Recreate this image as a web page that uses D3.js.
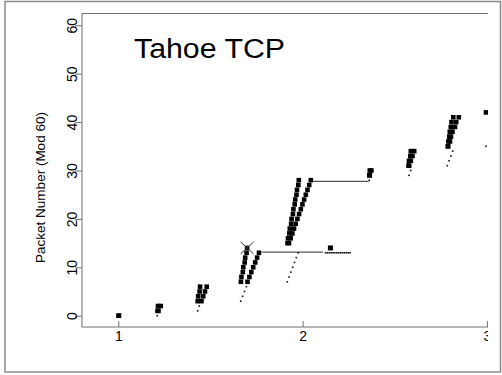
<!DOCTYPE html>
<html>
<head>
<meta charset="utf-8">
<script src="https://cdn.jsdelivr.net/npm/d3@7"></script>
<style>
  body { margin: 0; background: white; }
  svg { display: block; font-family: "Liberation Sans", Arial, Helvetica, sans-serif; }
</style>
</head>
<body>
<script>
// packets arriving at the gateway [time, packet number mod 60]
var arrivals = [[1.0011, 0],
    [1.2127, 1], [1.2154, 2],
    [1.4308, 3], [1.4335, 4], [1.4411, 5], [1.4438, 6],
    [1.6652, 7], [1.6679, 8], [1.6755, 9], [1.6782, 10], [1.6858, 11], [1.6885, 12], [1.6961, 13], [1.6989, 14],
    [1.9181, 15], [1.9208, 16], [1.9278, 17], [1.9306, 18], [1.9376, 19], [1.9403, 20], [1.9474, 21],
    [1.9501, 22], [1.9571, 23], [1.9598, 24], [1.9669, 25], [1.9696, 26], [1.9767, 27], [1.9794, 28],
    [2.1498, 14],
    [2.3619, 29], [2.3646, 30],
    [2.5746, 31], [2.5773, 32], [2.5844, 33], [2.5871, 34],
    [2.7878, 35], [2.7906, 36], [2.7960, 37], [2.7987, 38], [2.8041, 39], [2.8079, 40], [2.8177, 41],
    [2.9951, 42]];

// packets leaving the gateway
var departures = [[1.0038, 0],
    [1.2181, 1], [1.2306, 2],
    [1.4514, 3], [1.4607, 4], [1.4704, 5], [1.4797, 6],
    [1.7010, 7], [1.7113, 8], [1.7216, 9], [1.7320, 10], [1.7428, 11], [1.7531, 12], [1.7634, 13],
    [1.9262, 15], [1.9354, 16], [1.9446, 17], [1.9533, 18], [1.9626, 19], [1.9718, 20], [1.9810, 21],
    [1.9902, 22], [1.9989, 23], [2.0081, 24], [2.0174, 25], [2.0266, 26], [2.0358, 27], [2.0445, 28],
    [2.1525, 14],
    [2.3646, 29], [2.3733, 30],
    [2.5784, 31], [2.5871, 32], [2.5963, 33], [2.6055, 34],
    [2.7900, 35], [2.7998, 36], [2.8052, 37], [2.8134, 38], [2.8269, 39], [2.8334, 40], [2.8475, 41]];

var drops = [[1.6989, 14]];

// acks received by the source
var acks = [[1.2116, 0],
    [1.4308, 1], [1.4395, 2],
    [1.6641, 3], [1.6744, 4], [1.6848, 5], [1.6951, 6],
    [1.9170, 7], [1.9267, 8], [1.9365, 9], [1.9463, 10], [1.9560, 11], [1.9658, 12], [1.9756, 13],
    [2.1243, 13], [2.1346, 13], [2.1449, 13], [2.1552, 13], [2.1650, 13], [2.1753, 13], [2.1856, 13],
    [2.1959, 13], [2.2062, 13], [2.2159, 13], [2.2262, 13], [2.2365, 13], [2.2469, 13], [2.2572, 13],
    [2.3619, 28],
    [2.5773, 29], [2.5866, 30],
    [2.7851, 31], [2.7949, 32], [2.8047, 33], [2.8144, 34],
    [2.9951, 35]];

// horizontal waiting lines [from, to, packet number]
var waitLines = [[1.7797, 2.1107, 13.15], [2.0553, 2.3592, 27.75]];

var xTicks = [1, 2, 3];
var yTicks = [0, 10, 20, 30, 40, 50, 60];
var title = "Tahoe TCP";
var yTitle = "Packet Number (Mod 60)";

// Global Vars
var width = 502, height = 375;
var plotLeft = 82, plotTop = 13.5, plotBottom = 327, clipRight = 488;
var boxSize = 4.6;
var axisColor = "#6e6e6e";

var x = d3.scaleLinear().domain([1, 3]).range([118.3, 486.9]);
var y = d3.scaleLinear().domain([0, 60]).range([315.7, 25.3]);

var svg = d3.select("body").append("svg")
    .attr("width", width)
    .attr("height", height);

svg.append("rect")
    .attr("x", 5).attr("y", 1.5)
    .attr("width", 495.5).attr("height", 370.5)
    .attr("fill", "none")
    .attr("stroke", "#8a8a8a")
    .attr("stroke-width", 1.5);

svg.append("clipPath").attr("id", "crop")
    .append("rect")
    .attr("x", 0).attr("y", 0)
    .attr("width", clipRight).attr("height", height);

var chart = svg.append("g").attr("clip-path", "url(#crop)");

// plot box: left, top, bottom
chart.append("path")
    .attr("d", "M" + (clipRight + 20) + "," + plotTop + "H" + plotLeft + "V" + plotBottom + "H" + (clipRight + 20))
    .attr("fill", "none")
    .attr("stroke", axisColor)
    .attr("stroke-width", 1);

var yAxis = d3.axisLeft(y).tickValues(yTicks).tickSize(7).tickPadding(4);
var gy = chart.append("g")
    .attr("transform", "translate(" + plotLeft + ",0)")
    .call(yAxis);
gy.select(".domain").remove();
gy.selectAll(".tick line").attr("stroke", axisColor);
gy.selectAll(".tick text")
    .attr("x", null).attr("dy", null)
    .attr("text-anchor", "middle")
    .attr("transform", "translate(-5,0) rotate(-90)")
    .attr("font-size", 14)
    .attr("fill", "black")
    .attr("font-family", null);

var xAxis = d3.axisBottom(x).tickValues(xTicks).tickFormat(d3.format("d")).tickSize(0).tickPadding(4);
var gx = chart.append("g")
    .attr("transform", "translate(0," + plotBottom + ")")
    .call(xAxis);
gx.select(".domain").remove();
gx.selectAll(".tick line").attr("y2", -6).attr("stroke", axisColor);
gx.selectAll(".tick text")
    .attr("y", 13.5).attr("dy", null)
    .attr("font-size", 14)
    .attr("fill", "black")
    .attr("font-family", null);

chart.append("text")
    .attr("x", 45).attr("y", 187.5)
    .attr("transform", "rotate(-90,45,187.5)")
    .attr("text-anchor", "middle")
    .attr("font-size", 13.5)
    .text(yTitle);

chart.append("text")
    .attr("x", 134).attr("y", 58)
    .attr("font-size", 27)
    .attr("textLength", 151)
    .attr("lengthAdjust", "spacingAndGlyphs")
    .text(title);

// marks
var marks = chart.append("g");

marks.selectAll(".wait")
    .data(waitLines)
    .enter()
    .append("line")
    .attr("x1", function(d){ return x(d[0]); })
    .attr("x2", function(d){ return x(d[1]); })
    .attr("y1", function(d){ return y(d[2]); })
    .attr("y2", function(d){ return y(d[2]); })
    .attr("stroke", "#555")
    .attr("stroke-width", 1.2);

marks.selectAll(".pkt")
    .data(arrivals.concat(departures))
    .enter()
    .append("rect")
    .attr("x", function(d){ return x(d[0]) - boxSize / 2; })
    .attr("y", function(d){ return y(d[1]) - boxSize / 2; })
    .attr("width", boxSize)
    .attr("height", boxSize)
    .attr("fill", "black");

marks.selectAll(".ack")
    .data(acks)
    .enter()
    .append("rect")
    .attr("x", function(d){ return x(d[0]) - 0.8; })
    .attr("y", function(d){ return y(d[1]) - 0.8; })
    .attr("width", 1.6)
    .attr("height", 1.6)
    .attr("fill", "#111");

marks.selectAll(".drop")
    .data(drops)
    .enter()
    .append("path")
    .attr("d", function(d){
        var cx = x(d[0]), cy = y(d[1]);
        return "M" + (cx - 6.5) + "," + (cy - 6) + "L" + (cx + 6.5) + "," + (cy + 6) +
               "M" + (cx - 6.5) + "," + (cy + 6) + "L" + (cx + 6.5) + "," + (cy - 6);
    })
    .attr("stroke", "#333")
    .attr("stroke-width", 1)
    .attr("fill", "none");
</script>
</body>
</html>
